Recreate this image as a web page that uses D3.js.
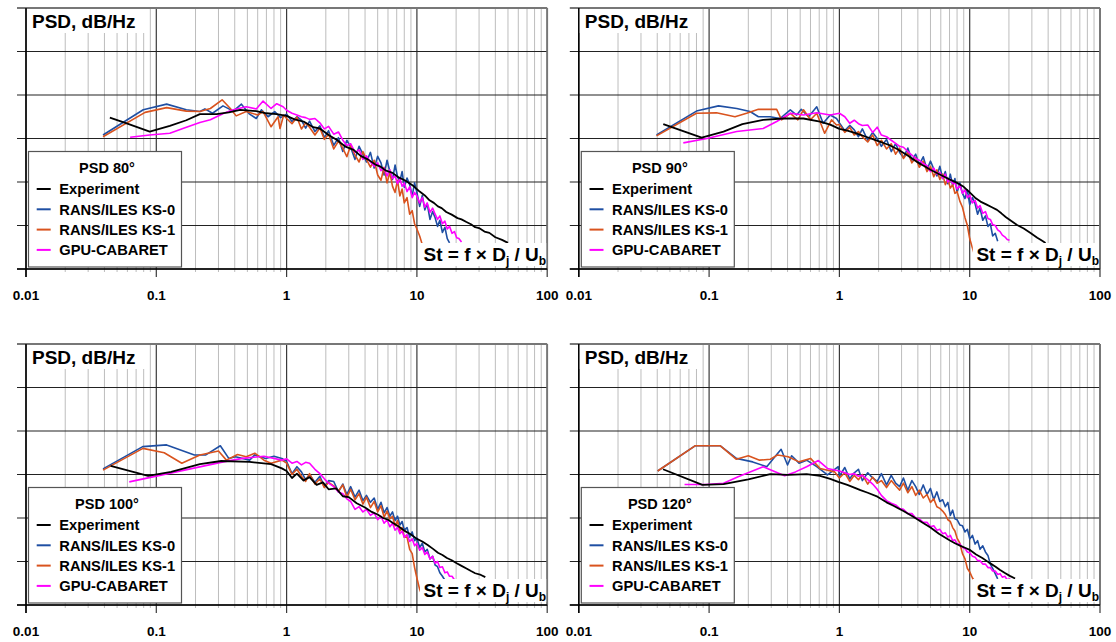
<!DOCTYPE html>
<html>
<head>
<meta charset="utf-8">
<script src="https://cdn.jsdelivr.net/npm/d3@7"></script>
<style>
  body { margin: 0; background: #fff; }
  svg { display: block; }
  text { font-family: "Liberation Sans", Arial, sans-serif; font-weight: bold; fill: #000; }
</style>
</head>
<body>
<svg id="chart" width="1116" height="642"></svg>
<script>
// ---- data (St, dB) ----
const seriesNames = ["Experiment", "RANS/ILES KS-0", "RANS/ILES KS-1", "GPU-CABARET"];
const seriesColors = ["#000000", "#1f4fa3", "#d9531e", "#ff00ff"];
const panelTitles = ["PSD 80°", "PSD 90°", "PSD 100°", "PSD 120°"];
const xTickValues = [0.01, 0.1, 1, 10, 100];
const xTickLabels = ["0.01", "0.1", "1", "10", "100"];
const yGridValues = [0, 10, 20, 30, 40, 50, 60];

// common Strouhal grid for the noisy high-frequency part of the simulations
const stHF = [1.0, 1.1, 1.2, 1.3, 1.4, 1.5, 1.65, 1.8, 1.95, 2.1,
  2.3, 2.5, 2.7, 2.9, 3.1, 3.35, 3.6, 3.85, 4.1, 4.4,
  4.7, 5.0, 5.3, 5.6, 5.9, 6.2, 6.5, 6.8, 7.1, 7.4,
  7.7, 8.0, 8.4, 8.8, 9.2, 9.6, 10.0, 10.5, 11.0, 11.5,
  12.0, 12.6, 13.2, 13.8, 14.4, 15.0, 15.7, 16.4, 17.1, 17.8,
  18.6, 19.4, 20.2, 21.0, 22.0];

// 80 deg
const exp80 = [[0.044,34.8],[0.06,33.4],[0.089,31.6],[0.127,32.9],[0.17,34.2],[0.216,35.6],[0.29,35.6],[0.36,36.0],[0.44,36.6],[0.585,36.3],[0.7,35.8],[0.84,35.6],[1.0,35.2],[1.15,34.4],[1.35,33.9],[1.6,32.6],[1.8,32.3],[2.1,30.8],[2.42,29.7],[2.8,28.2],[3.27,27.4],[3.7,26.0],[4.2,25.2],[4.8,24.0],[5.2,23.6],[5.8,22.6],[6.5,22.1],[7.3,21.0],[8.2,20.3],[9.3,19.2],[10.5,17.8],[11.5,16.9],[12.5,15.8],[13.5,15.2],[14.5,14.4],[15.5,14.0],[16.8,13.1],[18.5,12.5],[20.5,11.7],[22,11.4],[24,10.8],[26,10.3],[28,9.6],[30,9.4],[33,8.6],[36,8.3],[40,7.3],[45,6.7],[50,6.0]];
const ks0Low80 = [[0.039,30.8],[0.0794,36.6],[0.12,37.9],[0.17,36.6],[0.216,36.2],[0.236,36.8],[0.27,35.8],[0.325,37.5],[0.39,36.3],[0.45,37.9],[0.52,35.6],[0.585,34.6],[0.64,36.6],[0.72,35.0],[0.81,36.2],[0.9,34.8]];
const ks0High80 = [35.6,33.9,35.0,34.2,32.4,34.0,31.6,32.9,30.2,31.8,
  28.4,30.2,27.0,29.6,28.0,25.2,28.2,26.4,24.6,26.8,
  23.2,25.9,24.4,21.6,25.0,22.4,20.6,23.9,21.2,20.2,
  22.4,18.8,20.9,19.4,16.8,19.8,17.6,14.4,16.9,13.6,
  15.0,11.4,13.2,11.8,9.8,11.2,8.4,9.6,7.0,6.0];
const ks1Low80 = [[0.039,30.4],[0.082,36.0],[0.12,37.1],[0.17,36.3],[0.216,36.2],[0.26,36.9],[0.32,38.9],[0.37,36.9],[0.41,35.2],[0.49,36.2],[0.6,35.4],[0.66,36.2],[0.76,32.7],[0.86,35.0],[0.89,32.3],[0.95,35.4]];
const ks1High80 = [34.6,33.4,34.9,32.2,33.6,32.6,30.8,32.4,29.8,31.0,
  27.6,29.4,27.8,25.8,28.4,26.2,24.6,27.0,25.2,23.4,
  25.0,21.6,20.4,23.4,19.8,22.2,19.0,17.6,20.4,16.8,
  18.4,15.2,16.4,12.6,13.4,10.4,9.2,7.6,5.6,3.2];
const gpuLow80 = [[0.063,30.3],[0.089,30.8],[0.127,31.2],[0.16,32.3],[0.216,33.7],[0.26,34.3],[0.33,35.8],[0.39,36.6],[0.49,37.3],[0.585,36.8],[0.66,38.6],[0.76,36.9],[0.84,38.0],[0.94,37.3]];
const gpuHigh80 = [36.5,35.8,35.4,35.0,34.8,34.4,34.6,33.6,32.2,32.8,
  31.0,31.5,29.6,28.4,28.8,26.8,27.4,25.2,26.0,24.6,
  23.6,24.4,22.6,23.2,21.4,22.8,20.8,21.4,19.6,20.8,
  19.0,19.8,17.8,18.9,16.4,17.6,16.8,15.2,16.4,14.2,
  15.2,13.0,14.0,12.6,11.4,12.2,10.4,11.0,9.2,9.8,
  8.2,8.6,7.2,7.0,6.2];

// 90 deg
const exp90 = [[0.0445,33.3],[0.0877,30.2],[0.129,31.6],[0.18,33.3],[0.26,34.3],[0.37,34.6],[0.53,34.6],[0.71,33.9],[0.85,33.2],[1.0,32.2],[1.15,31.8],[1.35,31.2],[1.6,30.4],[1.94,29.5],[2.4,28.5],[2.77,27.6],[3.3,26.2],[4.0,24.5],[4.5,23.6],[5.0,22.8],[6.0,21.6],[7.0,20.6],[8.0,19.8],[9.0,18.9],[10.0,17.6],[11,16.4],[12.1,15.5],[13.5,14.8],[14.8,14.2],[16.2,13.6],[17.5,12.8],[19,11.9],[21,11.0],[23.1,10.1],[26,9.3],[29.3,8.3],[33,7.2],[36,6.5],[38.2,6.0]];
const ks0Low90 = [[0.0395,30.8],[0.08,36.3],[0.118,37.5],[0.163,36.9],[0.206,36.2],[0.239,35.0],[0.294,35.0],[0.35,34.6],[0.42,36.6],[0.47,35.4],[0.51,36.7],[0.58,35.0],[0.67,37.3],[0.75,33.5],[0.85,35.4],[0.95,34.6]];
const ks0High90 = [33.6,31.8,33.0,32.0,30.4,32.2,29.6,31.4,30.0,28.2,
  29.8,27.0,28.8,26.8,25.6,27.8,25.0,26.4,24.0,25.8,
  22.8,24.8,23.0,21.4,23.6,20.8,22.4,19.6,21.8,19.2,
  20.8,17.6,19.8,17.4,16.2,18.2,14.8,16.4,15.0,12.6,
  14.0,11.2,12.2,9.8,10.4,7.6,8.2,6.4];
const ks1Low90 = [[0.0395,30.6],[0.08,35.8],[0.114,35.9],[0.158,35.0],[0.194,35.8],[0.239,36.7],[0.33,36.7],[0.36,34.3],[0.42,35.8],[0.48,34.3],[0.53,36.6],[0.6,34.3],[0.67,35.8],[0.77,31.2],[0.87,34.3],[0.95,33.1]];
const ks1High90 = [33.2,31.4,32.6,30.8,31.6,30.4,29.2,30.8,28.4,29.6,
  27.6,28.8,26.4,27.8,25.4,26.8,24.4,25.6,23.4,24.8,
  22.4,23.6,21.2,22.8,20.6,21.8,19.4,20.6,18.6,19.4,
  17.4,17.8,15.6,14.2,11.8,10.0,7.0,4.8,2.8];
const gpuLow90 = [[0.0634,29.0],[0.096,30.0],[0.163,31.6],[0.26,32.3],[0.33,33.9],[0.42,35.8],[0.53,35.4],[0.67,35.9],[0.85,35.4]];
const gpuHigh90 = [35.8,35.0,33.5,34.2,33.4,33.0,33.1,31.4,32.6,30.8,
  30.4,29.6,28.9,28.2,28.0,27.0,26.2,25.4,25.0,24.2,
  23.8,22.4,23.2,21.8,22.2,20.8,21.8,20.0,20.6,19.6,
  19.8,18.4,19.2,17.4,18.2,16.4,17.0,15.2,15.8,14.0,
  14.6,12.8,13.2,11.6,11.4,10.2,10.0,9.0,8.6,7.8,
  7.4,6.8,6.6];

// 100 deg
const exp100 = [[0.0446,32.0],[0.0865,29.7],[0.13,30.6],[0.216,32.4],[0.315,33.1],[0.52,32.9],[0.76,32.4],[0.92,31.4],[1.0,30.8],[1.1,29.2],[1.2,30.2],[1.35,28.6],[1.5,29.4],[1.7,27.6],[1.9,28.2],[2.1,26.6],[2.4,26.8],[2.7,25.0],[3.0,24.8],[3.45,23.4],[4.0,22.4],[4.5,21.4],[5.0,20.8],[5.5,20.0],[6.0,19.6],[6.6,18.8],[7.3,18.0],[8,17.1],[9,16.2],[10,15.2],[11,14.6],[12.1,13.8],[13.3,12.9],[14.5,12.0],[15.7,11.5],[17,10.8],[18.5,10.3],[20.2,9.6],[22,9.0],[24,8.4],[26,7.8],[28,7.3],[31,6.9],[33.5,6.4]];
const ks0Low100 = [[0.039,31.3],[0.0787,36.4],[0.12,36.8],[0.196,34.5],[0.24,34.5],[0.31,36.6],[0.36,33.7],[0.405,34.1],[0.52,33.3],[0.57,34.5],[0.69,33.7],[0.8,34.2],[0.92,33.7]];
const ks0High100 = [33.0,30.2,31.8,30.6,28.8,30.0,28.2,29.6,27.2,28.6,
  28.4,26.0,27.8,25.4,27.2,24.8,26.4,24.0,25.2,23.6,
  24.6,22.0,23.6,21.2,22.4,20.4,21.4,19.4,20.4,18.4,
  19.2,17.2,17.8,15.6,16.8,14.8,15.4,13.2,14.2,12.2,
  12.8,10.6,11.2,9.2,8.8,7.4,6.6,5.7];
const ks1Low100 = [[0.039,31.0],[0.079,36.0],[0.115,35.0],[0.157,32.6],[0.216,34.5],[0.3,35.4],[0.345,33.3],[0.42,34.6],[0.49,34.1],[0.57,34.9],[0.67,33.3],[0.76,32.6],[0.92,33.3]];
const ks1High100 = [32.6,30.0,31.2,29.6,28.4,30.2,27.8,29.0,27.0,28.2,
  27.4,26.2,27.6,24.8,26.6,24.2,25.6,23.2,24.8,22.4,
  23.8,21.4,22.8,20.2,21.6,19.8,20.4,18.2,19.4,17.0,
  17.8,15.6,15.6,12.8,11.8,8.6,6.2,3.6,2.0];
const gpuLow100 = [[0.062,28.3],[0.326,32.9],[0.46,33.7],[0.67,34.2],[0.92,33.3]];
const gpuHigh100 = [33.6,32.6,33.0,32.2,32.8,32.6,31.2,30.2,29.0,28.0,
  27.2,26.0,25.6,24.4,23.8,22.0,22.6,21.4,22.0,20.6,
  21.2,19.6,20.4,18.8,19.6,18.0,18.8,17.2,17.8,16.4,
  17.0,15.6,16.2,14.6,15.2,13.6,14.2,12.6,13.2,11.6,
  12.2,10.6,11.2,9.6,10.0,8.6,8.8,7.4,7.6,6.6,
  6.6,5.8];

// 120 deg
const exp120 = [[0.0443,31.2],[0.0888,27.6],[0.129,27.8],[0.2,28.9],[0.295,30.1],[0.404,29.9],[0.56,30.1],[0.71,29.7],[0.85,29.0],[0.98,28.3],[1.15,27.6],[1.3,27.0],[1.45,26.4],[1.65,25.8],[1.96,24.9],[2.3,23.6],[2.6,22.8],[3.1,21.6],[3.69,20.3],[4.3,19.0],[5.0,17.8],[5.8,16.4],[7.0,14.9],[7.7,14.2],[8.5,13.6],[9.3,13.1],[10.1,12.6],[11.2,11.6],[12.5,10.8],[14,9.8],[15.8,8.8],[17,8.1],[18.5,7.4],[20.3,6.7],[22.3,6.1]];
const ks0Low120 = [[0.0403,30.8],[0.078,36.6],[0.122,36.6],[0.162,33.7],[0.216,32.9],[0.277,31.8],[0.32,34.1],[0.357,35.8],[0.40,32.2],[0.43,34.3],[0.49,32.6],[0.56,33.3],[0.67,31.8],[0.81,29.9],[0.98,31.8]];
const ks0High120 = [29.6,31.6,29.0,30.4,31.2,28.6,30.4,29.2,28.4,30.2,
  27.6,29.8,28.0,27.2,29.2,26.4,28.6,27.2,25.4,27.6,
  25.4,26.8,24.2,26.0,23.8,24.2,22.6,23.6,20.6,21.8,
  19.8,19.6,18.4,18.2,16.8,17.4,15.2,16.0,14.0,14.8,
  12.8,13.6,12.2,11.4,9.4,8.4,7.2,6.0];
const ks1Low120 = [[0.0403,30.8],[0.078,36.6],[0.122,36.6],[0.162,33.5],[0.2,34.3],[0.244,33.3],[0.295,33.5],[0.336,34.5],[0.404,34.1],[0.49,32.9],[0.6,33.7],[0.71,31.4],[0.92,30.6]];
const ks1High120 = [29.2,30.4,28.4,29.8,28.8,30.0,27.8,29.4,28.0,28.6,
  27.0,28.6,27.4,26.4,28.0,25.8,27.2,25.2,26.4,24.6,
  25.4,23.6,24.4,22.6,22.2,21.6,20.8,19.6,19.2,17.8,
  17.0,15.4,14.2,11.8,10.6,8.4,7.6,6.2,5.4];
const gpuLow120 = [[0.0648,27.7],[0.095,27.7],[0.129,28.0],[0.167,29.5],[0.26,31.8],[0.38,29.7],[0.46,30.6],[0.56,31.8],[0.69,33.2],[0.81,31.4]];
const gpuHigh120 = [30.8,30.4,30.0,30.2,29.6,29.8,28.8,27.8,26.6,25.2,
  24.0,23.4,23.0,22.2,22.0,21.0,21.0,20.0,19.8,19.0,
  19.0,18.0,18.2,17.2,17.4,16.4,16.6,15.6,16.0,14.8,
  15.0,14.0,14.0,13.2,13.0,12.2,12.0,11.2,11.0,10.2,
  10.2,9.4,9.4,8.6,8.6,7.8,7.8,7.0,7.2,6.4,
  6.6,5.8,6.0,5.6];

// joins the hand-read low-frequency points with the high-frequency values on the stHF grid
function join(low, high) {
    return low.concat(high.map((v, i) => [stHF[i], v]));
}

const panels = [
    {title: panelTitles[0], x0: 26, y0: 8, series: [exp80, join(ks0Low80, ks0High80), join(ks1Low80, ks1High80), join(gpuLow80, gpuHigh80)]},
    {title: panelTitles[1], x0: 578.8, y0: 8, series: [exp90, join(ks0Low90, ks0High90), join(ks1Low90, ks1High90), join(gpuLow90, gpuHigh90)]},
    {title: panelTitles[2], x0: 26, y0: 344, series: [exp100, join(ks0Low100, ks0High100), join(ks1Low100, ks1High100), join(gpuLow100, gpuHigh100)]},
    {title: panelTitles[3], x0: 578.8, y0: 344, series: [exp120, join(ks0Low120, ks0High120), join(ks1Low120, ks1High120), join(gpuLow120, gpuHigh120)]}
];

const W = 521.2, H = 261;
const svg = d3.select("#chart");

panels.forEach((p, pi) => drawPanel(p, pi));

function drawPanel(p, pi) {
    let g = svg.append("g").attr("transform", "translate(" + p.x0 + "," + p.y0 + ")");
    let x = d3.scaleLog().domain([0.01, 100]).range([0, W]);
    let y = d3.scaleLinear().domain([0, 60]).range([H, 0]);

    let vticks = x.ticks();
    let isMajor = v => Math.abs(Math.log10(v) - Math.round(Math.log10(v))) < 1e-6;

    // vertical grid, minor first
    g.selectAll(".vminor").data(vticks.filter(v => !isMajor(v))).enter().append("line")
        .attr("x1", d => x(d)).attr("x2", d => x(d))
        .attr("y1", 0).attr("y2", H + 3)
        .attr("stroke", "#bdbdbd").attr("stroke-width", 1);
    g.selectAll(".vmajor").data(xTickValues).enter().append("line")
        .attr("x1", d => x(d)).attr("x2", d => x(d))
        .attr("y1", 0).attr("y2", H + 8)
        .attr("stroke", "#3a3a3a").attr("stroke-width", 1.2);

    // horizontal grid with the little ticks left of the axis
    g.selectAll(".hgrid").data(yGridValues).enter().append("line")
        .attr("x1", -9).attr("x2", W)
        .attr("y1", d => y(d)).attr("y2", d => y(d))
        .attr("stroke", d => d === 60 ? "#777" : "#222")
        .attr("stroke-width", d => d === 60 ? 1.8 : 1.2);

    // right border
    g.append("line").attr("x1", W).attr("x2", W).attr("y1", 0).attr("y2", H)
        .attr("stroke", "#777").attr("stroke-width", 1.8);
    // axes
    g.append("line").attr("x1", 0).attr("x2", 0).attr("y1", 0).attr("y2", H + 8)
        .attr("stroke", "#000").attr("stroke-width", 1.5);
    g.append("line").attr("x1", -9).attr("x2", W).attr("y1", H).attr("y2", H)
        .attr("stroke", "#000").attr("stroke-width", 1.5);

    // tick labels
    g.selectAll(".xlab").data(xTickValues).enter().append("text")
        .attr("x", d => x(d)).attr("y", H + 30.5)
        .attr("text-anchor", "middle").style("font-size", "13.5px")
        .text((d, i) => xTickLabels[i]);

    // data lines: blue, orange, magenta, then black on top
    let line = d3.line().x(d => x(d[0])).y(d => y(d[1]));
    [1, 2, 3, 0].forEach(si => {
        g.append("path").datum(p.series[si])
            .attr("d", line)
            .attr("fill", "none")
            .attr("stroke", seriesColors[si])
            .attr("stroke-width", si === 0 ? 1.8 : 1.6)
            .attr("stroke-linejoin", "round");
    });

    // y title with white background
    g.append("rect").attr("x", 1).attr("y", 1).attr("width", 118).attr("height", 24).attr("fill", "#fff");
    g.append("text").attr("x", 6).attr("y", 19.5).style("font-size", "19px").text("PSD, dB/Hz");

    // x title with white background
    g.append("rect").attr("x", 394).attr("y", 235).attr("width", W - 395).attr("height", 23).attr("fill", "#fff");
    let st = g.append("text").attr("x", W - 1).attr("y", 252.5).attr("text-anchor", "end").style("font-size", "19px");
    st.append("tspan").text("St = f × D");
    st.append("tspan").attr("dy", 4).style("font-size", "12px").text("j");
    st.append("tspan").attr("dy", -4).text(" / U");
    st.append("tspan").attr("dy", 4).style("font-size", "12px").text("b");

    // legend
    let lg = g.append("g");
    lg.append("rect").attr("x", 2.5).attr("y", 143.5).attr("width", 153).attr("height", 115.5)
        .attr("fill", "#fff").attr("stroke", "#555").attr("stroke-width", 1.2);
    lg.append("text").attr("x", 81).attr("y", 165).attr("text-anchor", "middle")
        .style("font-size", "14.5px").text(p.title);
    seriesNames.forEach((name, i) => {
        let yy = 181 + i * 20.3;
        lg.append("line").attr("x1", 10.7).attr("x2", 24.7).attr("y1", yy).attr("y2", yy)
            .attr("stroke", seriesColors[i]).attr("stroke-width", 2);
        lg.append("text").attr("x", 33.3).attr("y", yy + 5.2).style("font-size", "14.7px").text(name);
    });
}
</script>
</body>
</html>
